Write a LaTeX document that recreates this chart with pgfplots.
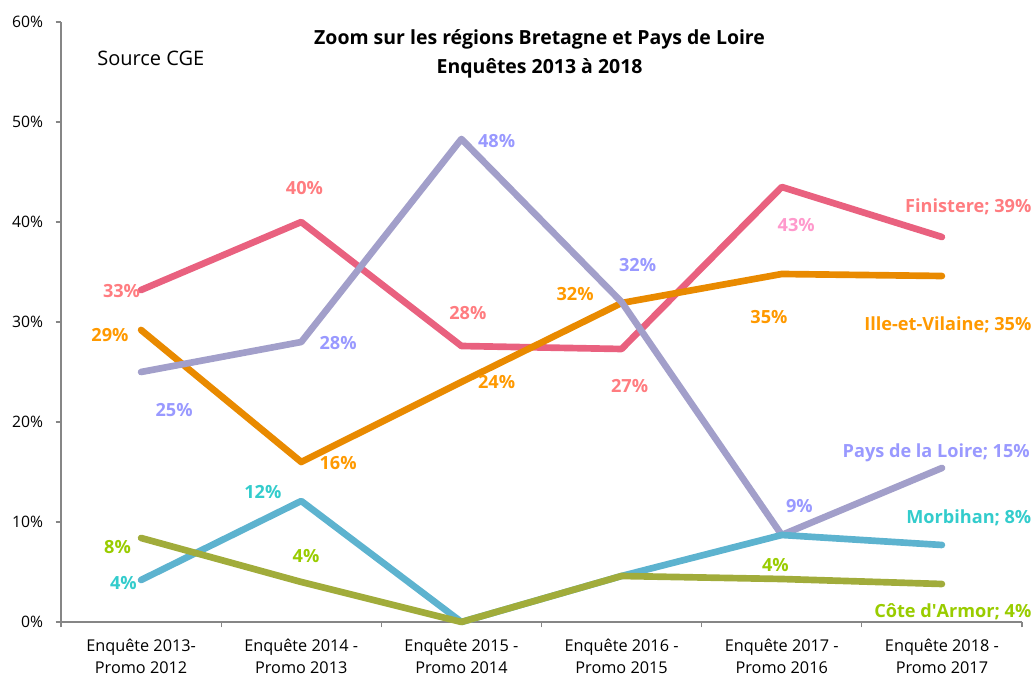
\documentclass[border=0pt]{standalone}
\usepackage{pgfplots}
\pgfplotsset{compat=1.18}
\usepackage{fontspec}
\setmainfont{Open Sans}
\definecolor{lFin}{HTML}{E9617F}
\definecolor{tFin}{HTML}{FF7C80}
\definecolor{tFinB}{HTML}{FF99CC}
\definecolor{lIlle}{HTML}{E98A00}
\definecolor{tIlle}{HTML}{FF9900}
\definecolor{lPdl}{HTML}{A29FCA}
\definecolor{tPdl}{HTML}{9999FF}
\definecolor{lMor}{HTML}{5DB3CF}
\definecolor{tMor}{HTML}{33CCCC}
\definecolor{lCot}{HTML}{A1AC3B}
\definecolor{tCot}{HTML}{99CC00}
\definecolor{axgray}{HTML}{868686}

\begin{document}
\begin{tikzpicture}
\begin{axis}[
    scale only axis,
    width=720.75pt, height=450pt,
    xmin=0.5, xmax=6.5, ymin=0, ymax=60,
    axis x line=bottom, axis y line=left,
    axis line style={draw=axgray, line width=0.8pt, -},
    xtick={1,...,6},
    xticklabels={{Enquête 2013-\\Promo 2012},{Enquête 2014 -\\Promo 2013},{Enquête 2015 -\\Promo 2014},{Enquête 2016 -\\Promo 2015},{Enquête 2017 -\\Promo 2016},{Enquête 2018 -\\Promo 2017}},
    x tick label style={align=center, font=\fontsize{12.2}{16.5}\selectfont, yshift=-5pt},
    minor xtick={0.5,1.5,...,6.5},
    major x tick style={draw=none},
    minor x tick style={draw=axgray, line width=0.8pt},
    ytick={0,10,...,60},
    yticklabels={0\%,10\%,20\%,30\%,40\%,50\%,60\%},
    y tick label style={font=\fontsize{11.8}{14}\selectfont, xshift=-6pt},
    y tick style={draw=axgray, line width=0.8pt},
    tick align=outside,
    major tick length=4pt, minor tick length=4pt,
    clip=false,
    every axis plot/.append style={line width=5pt, line cap=round, line join=round, no marks},
]
\addplot[color=lFin] coordinates {(1,33.2) (2,40.0) (3,27.6) (4,27.3) (5,43.5) (6,38.5)};
\addplot[color=lIlle] coordinates {(1,29.2) (2,16.0) (3,24.0) (4,31.9) (5,34.8) (6,34.6)};
\addplot[color=lPdl] coordinates {(1,25.0) (2,28.0) (3,48.3) (4,32.0) (5,8.7) (6,15.4)};
\addplot[color=lMor] coordinates {(1,4.2) (2,12.1) (3,0.0) (4,4.6) (5,8.7) (6,7.7)};
\addplot[color=lCot] coordinates {(1,8.4) (2,4.0) (3,0.0) (4,4.6) (5,4.3) (6,3.8)};

\begin{scope}[every node/.style={font=\fontsize{13.6}{15}\selectfont\bfseries, inner sep=0pt}]
\node[text=tFin] at (axis cs:0.878,33.1) {33\%};
\node[text=tFin] at (axis cs:2.02,43.4) {40\%};
\node[text=tFin] at (axis cs:3.04,30.9) {28\%};
\node[text=tFin] at (axis cs:4.05,23.6) {27\%};
\node[text=tFinB] at (axis cs:5.09,39.7) {43\%};
\node[text=tFin, anchor=east] at (axis cs:6.56,41.5) {Finistere; 39\%};

\node[text=tIlle] at (axis cs:0.806,28.7) {29\%};
\node[text=tIlle] at (axis cs:2.23,15.9) {16\%};
\node[text=tIlle] at (axis cs:3.22,24.0) {24\%};
\node[text=tIlle] at (axis cs:3.71,32.8) {32\%};
\node[text=tIlle] at (axis cs:4.92,30.5) {35\%};
\node[text=tIlle, anchor=east] at (axis cs:6.56,29.7) {Ille-et-Vilaine; 35\%};

\node[text=tPdl] at (axis cs:1.206,21.2) {25\%};
\node[text=tPdl] at (axis cs:2.23,27.9) {28\%};
\node[text=tPdl] at (axis cs:3.22,48.1) {48\%};
\node[text=tPdl] at (axis cs:4.10,35.7) {32\%};
\node[text=tPdl] at (axis cs:5.11,11.6) {9\%};
\node[text=tPdl, anchor=east] at (axis cs:6.55,16.9) {Pays de la Loire; 15\%};

\node[text=tMor] at (axis cs:0.89,3.9) {4\%};
\node[text=tMor] at (axis cs:1.76,13.0) {12\%};
\node[text=tMor, anchor=east] at (axis cs:6.56,10.4) {Morbihan; 8\%};

\node[text=tCot] at (axis cs:0.853,7.5) {8\%};
\node[text=tCot] at (axis cs:2.03,6.6) {4\%};
\node[text=tCot] at (axis cs:4.96,5.7) {4\%};
\node[text=tCot, anchor=east] at (axis cs:6.56,1.0) {Côte d\textquotesingle Armor; 4\%};
\end{scope}

\node[anchor=west, font=\fontsize{15}{16}\selectfont, inner sep=0pt] at (axis cs:0.725,56.4) {Source CGE};
\node[align=center, font=\fontsize{14.6}{21.5}\selectfont\bfseries, inner sep=0pt] at (rel axis cs:0.498,0.947) {Zoom sur les régions Bretagne et Pays de Loire\\Enquêtes 2013 à 2018};
\end{axis}
\pgfresetboundingbox
\path[use as bounding box] ([shift={(-45.75pt,-41.25pt)}]current axis.south west) rectangle ([shift={(9.75pt,16.5pt)}]current axis.north east);
\end{tikzpicture}
\end{document}
